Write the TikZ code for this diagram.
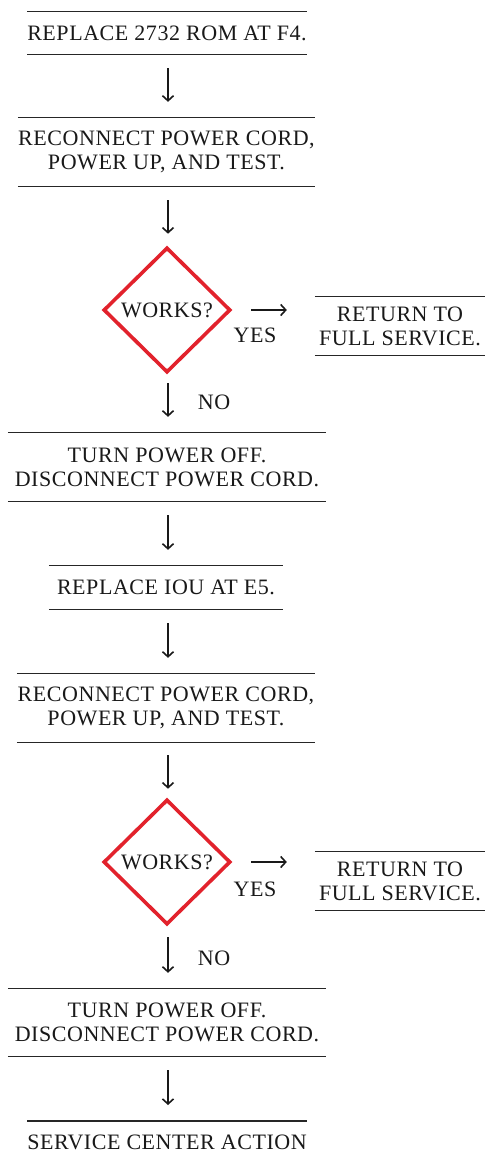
\documentclass[tikz,border=0pt]{standalone}
\usepackage{fontspec}
\setmainfont{Liberation Serif}[LetterSpace=2.5]
\usetikzlibrary{shapes.geometric,arrows.meta}
\definecolor{flowred}{RGB}{226,34,44}
\begin{document}
\begin{tikzpicture}[x=1pt,y=-1pt,
  every node/.style={font=\fontsize{22}{24}\selectfont, text=black!90},
  rulebox/.style={inner sep=0pt, align=center,
    append after command={(\tikzlastnode.north west) edge[rulestyle] (\tikzlastnode.north east)
      (\tikzlastnode.south west) edge[rulestyle] (\tikzlastnode.south east)}},
  topruled/.style={inner sep=0pt, align=center,
    append after command={(\tikzlastnode.north west) edge[rulestyle] (\tikzlastnode.north east)}},
  rulestyle/.style={draw=black!85, line width=1.1pt},
  decision/.style={diamond, draw=flowred, line width=3.6pt, inner sep=0pt,
    minimum width=127pt, minimum height=125pt, aspect=1},
  flow/.style={draw=black!90, line width=1.6pt, -{Straight Barb[length=5pt,width=11pt,line width=1.6pt]}},
  lbl/.style={inner sep=0pt}
]
\useasboundingbox (0,0) rectangle (487,1154);
\fill[white] (0,0) rectangle (487,1154);

\node[rulebox, minimum width=276pt, minimum height=42pt] (b1) at (167,33) {REPLACE 2732 ROM AT F4.};
\node[rulebox, minimum width=297pt, minimum height=68pt] (b2) at (166.5,152) {RECONNECT POWER CORD,\\POWER UP, AND TEST.};
\node[decision] (d1) at (167,310) {WORKS?};
\node[rulebox, minimum width=170pt, minimum height=58pt] (r1) at (400,326) {RETURN TO\\FULL SERVICE.};
\node[lbl] (y1) at (255,335) {YES};
\node[lbl] (n1) at (214,402) {NO};
\node[rulebox, minimum width=318pt, minimum height=68pt] (b3) at (167,467) {TURN POWER OFF.\\DISCONNECT POWER CORD.};
\node[rulebox, minimum width=234pt, minimum height=43pt] (b4) at (166,587.5) {REPLACE IOU AT E5.};
\node[rulebox, minimum width=298pt, minimum height=68pt] (b5) at (166,708) {RECONNECT POWER CORD,\\POWER UP, AND TEST.};
\node[decision] (d2) at (167,862) {WORKS?};
\node[rulebox, minimum width=170pt, minimum height=58pt] (r2) at (400,881) {RETURN TO\\FULL SERVICE.};
\node[lbl] (y2) at (255,889) {YES};
\node[lbl] (n2) at (214,958) {NO};
\node[rulebox, minimum width=318pt, minimum height=67pt] (b6) at (167,1022.5) {TURN POWER OFF.\\DISCONNECT POWER CORD.};
\node[topruled, minimum width=276pt, minimum height=42pt, anchor=north] (b7) at (167,1121) {SERVICE CENTER ACTION};

\draw[flow, shorten <=14pt, shorten >=16pt] (b1.south -| 168,0) -- (b2.north -| 168,0);
\draw[flow, shorten <=14pt, shorten >=12pt] (b2.south -| 168,0) -- (d1.north -| 168,0);
\draw[flow, shorten <=19pt, shorten >=28pt] (d1.east) -- (d1.east -| r1.west);
\draw[flow, shorten <=9pt, shorten >=16pt] (d1.south -| 168,0) -- (b3.north -| 168,0);
\draw[flow, shorten <=14pt, shorten >=16pt] (b3.south -| 168,0) -- (b4.north -| 168,0);
\draw[flow, shorten <=14pt, shorten >=16pt] (b4.south -| 168,0) -- (b5.north -| 168,0);
\draw[flow, shorten <=13pt, shorten >=9pt] (b5.south -| 168,0) -- (d2.north -| 168,0);
\draw[flow, shorten <=19pt, shorten >=28pt] (d2.east) -- (d2.east -| r2.west);
\draw[flow, shorten <=11pt, shorten >=16pt] (d2.south -| 168,0) -- (b6.north -| 168,0);
\draw[flow, shorten <=14pt, shorten >=16pt] (b6.south -| 168,0) -- (b7.north -| 168,0);
\end{tikzpicture}
\end{document}
